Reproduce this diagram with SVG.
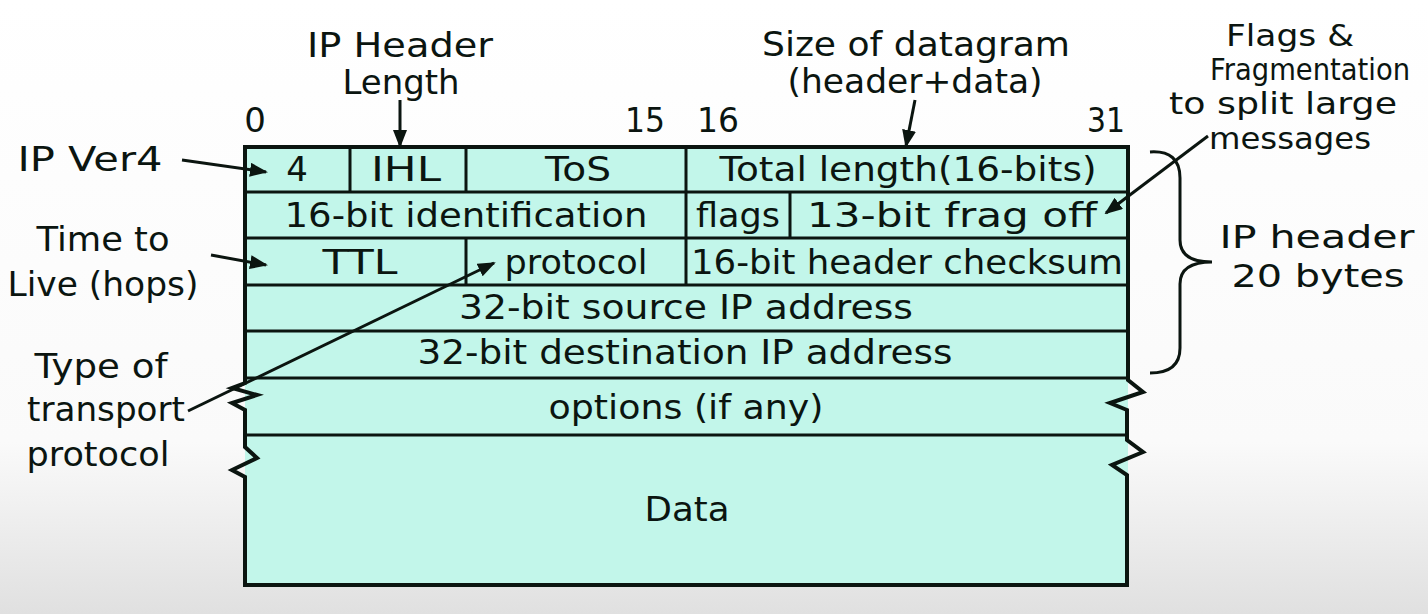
<svg xmlns="http://www.w3.org/2000/svg" width="1428" height="614" viewBox="0 0 1428 614">
<defs>
<linearGradient id="bg" x1="0" y1="0" x2="0" y2="1">
<stop offset="0" stop-color="#ffffff"/>
<stop offset="0.72" stop-color="#fafafa"/>
<stop offset="1" stop-color="#e0e0e0"/>
</linearGradient>
<marker id="ah" markerUnits="userSpaceOnUse" markerWidth="18" markerHeight="14" refX="16" refY="7" orient="auto">
<path d="M0,0 L18,7 L0,14 Z" fill="#0b1510"/>
</marker>
<style>
text{font-family:"DejaVu Sans","Liberation Sans",sans-serif;font-size:34px;fill:#0b1510;text-anchor:middle}
.sm{font-size:30px}
.md{font-size:32px}
.cell{fill:#c2f6ea}
.ln{stroke:#0b1510;stroke-width:3;fill:none}
.bd{stroke:#0b1510;stroke-width:4;fill:none;stroke-linejoin:miter}
.conn{stroke:#0b1510;stroke-width:3;fill:none;marker-end:url(#ah)}
</style>
</defs>
<rect width="1428" height="614" fill="url(#bg)"/>

<g id="table-fill">
<rect class="cell" x="245" y="147" width="883" height="438"/>
</g>
<g id="table-outline">
<path class="bd" d="M245,147 H1128 V380 L1143,392 L1110,403 L1127,410 V440 L1143,452 L1112,465 L1127,475 V585 H245 V477 L232,470 L257,458 L245,447 V410 L232,403 L257,395 L232,388 L245,383 Z"/>
<path class="ln" d="M245,192 H1128 M245,238 H1128 M245,285 H1128 M245,331 H1128 M245,378 H1128 M245,435 H1128"/>
</g>

<g id="field-version"><path class="ln" d="M350,147 V192"/><text x="297" y="181">4</text></g>
<g id="field-ihl"><path class="ln" d="M466,147 V192"/><text x="406" y="181" textLength="70" lengthAdjust="spacingAndGlyphs">IHL</text></g>
<g id="field-tos"><path class="ln" d="M686,147 V192"/><text x="578" y="181" textLength="66" lengthAdjust="spacingAndGlyphs">ToS</text></g>
<g id="field-total-length"><text x="908" y="181" textLength="377" lengthAdjust="spacingAndGlyphs">Total length(16-bits)</text></g>
<g id="field-identification"><path class="ln" d="M686,192 V238"/><text x="466" y="227" textLength="363" lengthAdjust="spacingAndGlyphs">16-bit identification</text></g>
<g id="field-flags"><path class="ln" d="M790,192 V238"/><text x="738" y="227" textLength="84" lengthAdjust="spacingAndGlyphs">flags</text></g>
<g id="field-frag-off"><text x="952" y="227" textLength="290" lengthAdjust="spacingAndGlyphs">13-bit frag off</text></g>
<g id="field-ttl"><path class="ln" d="M466,238 V285"/><text x="360" y="274" textLength="75" lengthAdjust="spacingAndGlyphs">TTL</text></g>
<g id="field-protocol"><path class="ln" d="M686,238 V285"/><text x="576" y="274" textLength="143" lengthAdjust="spacingAndGlyphs">protocol</text></g>
<g id="field-checksum"><text x="907" y="274" textLength="432" lengthAdjust="spacingAndGlyphs">16-bit header checksum</text></g>
<g id="field-source"><text x="686" y="319" textLength="454" lengthAdjust="spacingAndGlyphs">32-bit source IP address</text></g>
<g id="field-destination"><text x="685" y="364" textLength="535" lengthAdjust="spacingAndGlyphs">32-bit destination IP address</text></g>
<g id="field-options"><text x="686" y="419" textLength="275" lengthAdjust="spacingAndGlyphs">options (if any)</text></g>
<g id="field-data"><text x="687" y="521" textLength="85" lengthAdjust="spacingAndGlyphs">Data</text></g>

<g id="bit-numbers">
<text x="255" y="132">0</text>
<text x="645" y="132" textLength="40" lengthAdjust="spacingAndGlyphs">15</text>
<text x="718" y="132" textLength="42" lengthAdjust="spacingAndGlyphs">16</text>
<text x="1106" y="132" textLength="38" lengthAdjust="spacingAndGlyphs">31</text>
</g>

<g id="label-ihl"><text x="400" y="57" textLength="186" lengthAdjust="spacingAndGlyphs">IP Header</text><text x="401" y="94" textLength="117" lengthAdjust="spacingAndGlyphs">Length</text></g>
<g id="label-size"><text x="916" y="56" textLength="308" lengthAdjust="spacingAndGlyphs">Size of datagram</text><text x="915" y="93" textLength="255" lengthAdjust="spacingAndGlyphs">(header+data)</text></g>
<g id="label-flags"><text class="sm" x="1290" y="46" textLength="128" lengthAdjust="spacingAndGlyphs">Flags &amp;</text><text class="sm" x="1310" y="80" textLength="200" lengthAdjust="spacingAndGlyphs">Fragmentation</text><text class="sm" x="1283" y="114" textLength="228" lengthAdjust="spacingAndGlyphs">to split large</text><text class="sm" x="1290" y="149" textLength="162" lengthAdjust="spacingAndGlyphs">messages</text></g>
<g id="label-version"><text x="90" y="171" textLength="145" lengthAdjust="spacingAndGlyphs">IP Ver4</text></g>
<g id="label-ttl"><text x="103" y="251" textLength="133" lengthAdjust="spacingAndGlyphs">Time to</text><text x="103" y="296" textLength="191" lengthAdjust="spacingAndGlyphs">Live (hops)</text></g>
<g id="label-protocol"><text x="101" y="378" textLength="133" lengthAdjust="spacingAndGlyphs">Type of</text><text x="106" y="421" textLength="158" lengthAdjust="spacingAndGlyphs">transport</text><text x="98" y="466" textLength="143" lengthAdjust="spacingAndGlyphs">protocol</text></g>
<g id="label-header"><text class="md" x="1317" y="248" textLength="195" lengthAdjust="spacingAndGlyphs">IP header</text><text class="md" x="1318" y="287" textLength="173" lengthAdjust="spacingAndGlyphs">20 bytes</text></g>

<g id="connectors">
<path class="conn" d="M400,100 V146"/>
<path class="conn" d="M915,100 L906,146"/>
<path class="conn" d="M1208,136 L1106,213"/>
<path class="conn" d="M182,160 L266,172"/>
<path class="conn" d="M211,255 L266,265"/>
<path class="conn" d="M188,411 L494,263"/>
<path class="ln" d="M1150,152 Q1180,150 1180,178 V240 Q1180,262 1212,262 Q1180,262 1180,284 V348 Q1180,373 1150,373"/>
</g>
</svg>
